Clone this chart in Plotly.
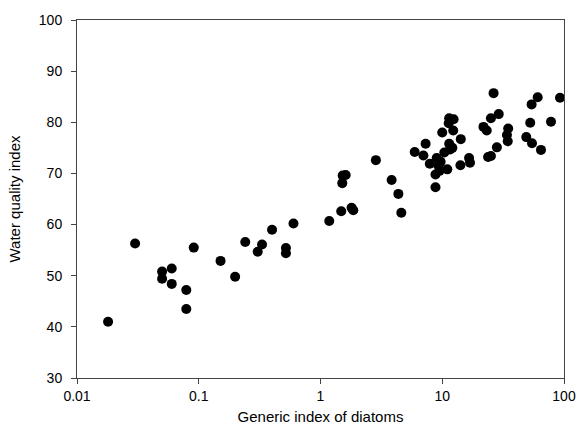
import plotly.graph_objects as go

gid = [0.018, 0.030, 0.050, 0.050, 0.060, 0.060, 0.079, 0.079, 0.091, 0.151,
       0.199, 0.241, 0.305, 0.331, 0.40, 0.52, 0.52, 0.60, 1.18, 1.48,
       1.80, 1.86, 1.51, 1.52, 1.61, 2.85, 3.84, 4.36, 4.61, 5.94,
       7.0, 7.3, 7.9, 8.8, 8.8, 9.0, 9.3, 9.5, 9.7, 11.0,
       10.4, 11.4, 12.1, 10.0, 11.4, 11.3, 12.4, 12.3, 14.2, 14.1,
       16.6, 16.9, 21.8, 23.2, 23.8, 25.1, 26.4, 25.1, 29.1, 28.1,
       34.8, 34.0, 34.5, 49.0, 54.6, 64.7, 52.8, 54.2, 60.8, 78.2,
       92.7, 11.6]
wqi = [41.0, 56.3, 50.8, 49.4, 51.4, 48.4, 47.2, 43.5, 55.5, 52.9,
       49.8, 56.6, 54.7, 56.1, 59.0, 55.4, 54.4, 60.2, 60.7, 62.6,
       63.3, 62.8, 68.1, 69.6, 69.7, 72.6, 68.7, 66.0, 62.3, 74.2,
       73.5, 75.8, 71.9, 67.3, 69.8, 73.0, 71.5, 70.5, 72.3, 70.8,
       74.1, 75.8, 75.0, 78.0, 80.8, 79.8, 80.6, 78.4, 76.7, 71.6,
       73.0, 72.1, 79.1, 78.4, 73.2, 73.4, 85.7, 80.8, 81.6, 75.1,
       78.8, 77.5, 76.3, 77.1, 75.9, 74.6, 79.9, 83.5, 84.9, 80.1,
       84.8, 74.7]

x_ticks = [0.01, 0.1, 1, 10, 100]
x_ticktext = ["0.01", "0.1", "1", "10", "100"]

fig = go.Figure()
fig.add_trace(go.Scatter(
    x=gid, y=wqi, mode="markers",
    marker=dict(color="black", size=10, line=dict(width=0)),
    showlegend=False,
))

font = dict(family="Liberation Sans, Arial, sans-serif", color="black")
fig.update_layout(
    width=576, height=435,
    margin=dict(l=77, r=12, t=20, b=57),
    paper_bgcolor="white", plot_bgcolor="white",
    font=dict(size=14, **font),
)
fig.update_xaxes(
    type="log", range=[-2, 2], automargin=False,
    tickvals=x_ticks, ticktext=x_ticktext,
    ticks="outside", ticklen=5, tickcolor="#444",
    showline=True, linecolor="#444", linewidth=1, mirror=True,
    showgrid=False, zeroline=False,
    tickfont=dict(size=14), ticklabeloverflow="allow",
    title=dict(text="Generic index of diatoms", font=dict(size=15), standoff=8),
)
fig.update_yaxes(
    range=[30, 100], dtick=10, tick0=30, automargin=False,
    ticks="outside", ticklen=5, tickcolor="#444",
    showline=True, linecolor="#444", linewidth=1, mirror=True,
    showgrid=False, zeroline=False,
    tickfont=dict(size=14), ticklabelstandoff=6,
    title=dict(text="Water quality index", font=dict(size=15), standoff=14),
)
# remove the page's default body margin so the 576x435 figure fills the window
fig.write_html(
    "out.html",
    config={"displayModeBar": False},
    post_script="document.body.style.margin='0';document.body.style.overflow='hidden';",
)
